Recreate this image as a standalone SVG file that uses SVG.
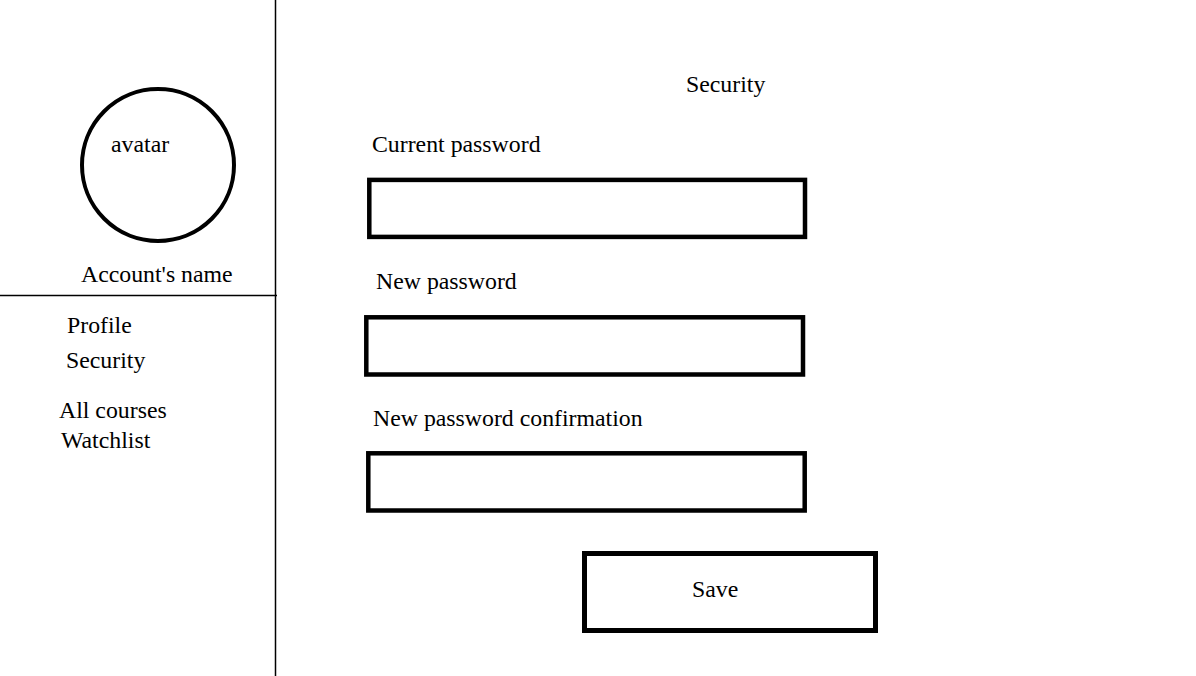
<svg xmlns="http://www.w3.org/2000/svg" width="1196" height="676" viewBox="0 0 1196 676">
<style>
text{font-family:"Liberation Serif","Times New Roman",serif;font-size:23.8px;fill:#000}
.box{fill:#fff;stroke:#000;stroke-width:4.5}
.line{stroke:#000;stroke-width:1.5;fill:none}
</style>
<rect width="1196" height="676" fill="#fff"/>
<g id="connectors">
<line class="line" x1="275.5" y1="0" x2="275.5" y2="676"/>
<line class="line" x1="0" y1="295.5" x2="277" y2="295.5"/>
</g>
<g id="sidebar">
<g id="avatar"><circle cx="158" cy="165" r="76" fill="#fff" stroke="#000" stroke-width="4"/><text x="111" y="152">avatar</text></g>
<text id="account-name" x="81" y="282">Account's name</text>
<text id="nav-profile" x="67" y="333">Profile</text>
<text id="nav-security" x="66" y="368">Security</text>
<text id="nav-courses" x="59" y="418">All courses</text>
<text id="nav-watchlist" x="61" y="448">Watchlist</text>
</g>
<g id="main">
<text id="title" x="686" y="92">Security</text>
<g id="current-password"><text x="372" y="152">Current password</text><rect class="box" x="369.3" y="179.9" width="435.7" height="57"/></g>
<g id="new-password"><text x="376" y="289">New password</text><rect class="box" x="366.3" y="317.3" width="436.7" height="57.2"/></g>
<g id="confirm-password"><text x="373" y="426">New password confirmation</text><rect class="box" x="368.3" y="453.3" width="436.4" height="57.2"/></g>
<g id="save"><rect x="584.5" y="553.5" width="291" height="77" fill="#fff" stroke="#000" stroke-width="5"/><text x="692" y="597">Save</text></g>
</g>
</svg>
